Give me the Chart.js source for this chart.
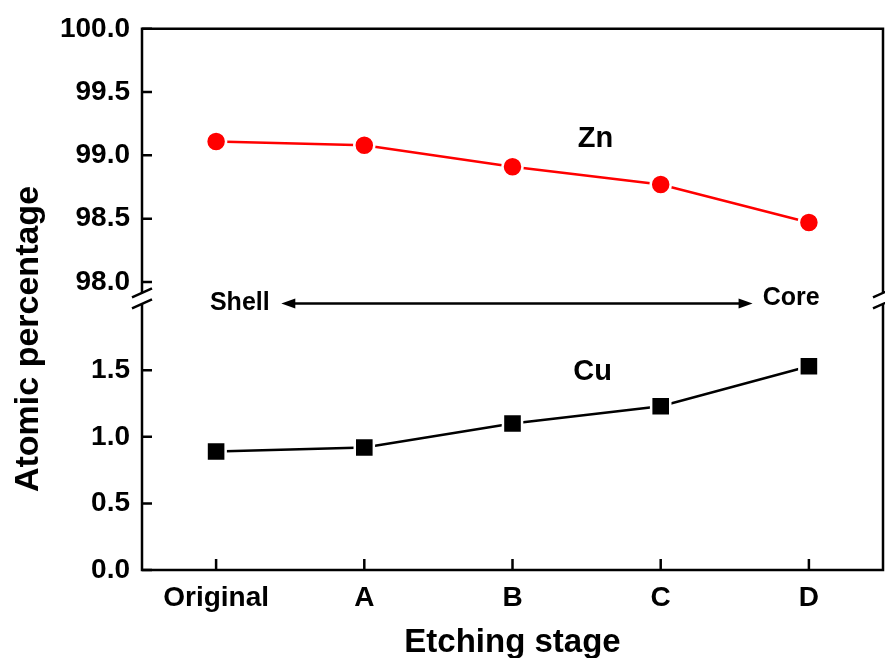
<!DOCTYPE html>
<html lang="en">
<head>
<meta charset="UTF-8">
<title>Atomic percentage by etching stage</title>
<style>
    html, body { margin: 0; padding: 0; background: #fff; }
    canvas { display: block; }
</style>
</head>
<body>
<canvas id="chart" width="885" height="658"></canvas>

<script src="https://cdn.jsdelivr.net/npm/chart.js"></script>
<script>
// data
const stages = ['Original', 'A', 'B', 'C', 'D'];
const znValues = [99.11, 99.08, 98.91, 98.77, 98.47];
const cuValues = [0.89, 0.92, 1.10, 1.23, 1.53];
const upperTicks = [98.0, 98.5, 99.0, 99.5, 100.0];
const lowerTicks = [0.0, 0.5, 1.0, 1.5];

const FONT = '"Liberation Sans", Arial, Helvetica, sans-serif';

// frame, inward ticks, axis break marks and the y title
const framePlugin = {
    id: 'frame',
    afterDraw(chart) {
        const ctx = chart.ctx;
        const a = chart.chartArea;
        const x = chart.scales.x;
        const yTop = chart.scales.yTop;
        const yBot = chart.scales.yBot;
        const breakY = yBot.top;
        const gap = 5.5;

        ctx.save();
        ctx.strokeStyle = '#000';
        ctx.lineWidth = 2.5;
        ctx.lineCap = 'butt';

        // box with gaps on the left and right sides at the break
        ctx.beginPath();
        ctx.moveTo(a.left, breakY - gap);
        ctx.lineTo(a.left, a.top);
        ctx.lineTo(a.right, a.top);
        ctx.lineTo(a.right, breakY - gap);
        ctx.moveTo(a.left, breakY + gap);
        ctx.lineTo(a.left, a.bottom);
        ctx.lineTo(a.right, a.bottom);
        ctx.lineTo(a.right, breakY + gap);
        ctx.stroke();

        // break slashes
        ctx.beginPath();
        [a.left, a.right].forEach(px => {
            [-gap, gap].forEach(off => {
                ctx.moveTo(px - 10, breakY + off + 4.5);
                ctx.lineTo(px + 10, breakY + off - 4.5);
            });
        });
        ctx.stroke();

        // inward tick marks
        ctx.beginPath();
        [yTop, yBot].forEach(s => {
            s.ticks.forEach(t => {
                const py = s.getPixelForValue(t.value);
                ctx.moveTo(a.left, py);
                ctx.lineTo(a.left + 10, py);
            });
        });
        stages.forEach((_, i) => {
            const px = x.getPixelForValue(i);
            ctx.moveTo(px, a.bottom);
            ctx.lineTo(px, a.bottom - 11);
        });
        ctx.stroke();

        // y axis title, rotated
        ctx.fillStyle = '#000';
        ctx.font = 'bold 34px ' + FONT;
        ctx.textAlign = 'center';
        ctx.textBaseline = 'middle';
        ctx.translate(29, 339);
        ctx.rotate(-Math.PI / 2);
        ctx.fillText('Atomic percentage', 0, 0);
        ctx.restore();
    }
};

// series labels and the shell/core arrow
const notesPlugin = {
    id: 'notes',
    afterDraw(chart) {
        const ctx = chart.ctx;
        const x = chart.scales.x;
        const yTop = chart.scales.yTop;
        const yBot = chart.scales.yBot;

        ctx.save();
        ctx.fillStyle = '#000';
        ctx.strokeStyle = '#000';
        ctx.textAlign = 'center';
        ctx.textBaseline = 'middle';

        ctx.font = 'bold 29px ' + FONT;
        ctx.fillText('Zn', x.getPixelForValue(2.56), yTop.getPixelForValue(99.13));
        ctx.fillText('Cu', x.getPixelForValue(2.54), yBot.getPixelForValue(1.485));

        const ay = yBot.top + 5;
        ctx.font = 'bold 25px ' + FONT;
        ctx.fillText('Shell', x.getPixelForValue(0.16), ay);
        ctx.fillText('Core', x.getPixelForValue(3.88), ay - 5);

        const x1 = x.getPixelForValue(0.44);
        const x2 = x.getPixelForValue(3.62);
        ctx.lineWidth = 2.5;
        ctx.beginPath();
        ctx.moveTo(x1 + 8, ay);
        ctx.lineTo(x2 - 8, ay);
        ctx.stroke();
        ctx.beginPath();
        ctx.moveTo(x1, ay);
        ctx.lineTo(x1 + 14, ay - 5);
        ctx.lineTo(x1 + 14, ay + 5);
        ctx.closePath();
        ctx.moveTo(x2, ay);
        ctx.lineTo(x2 - 14, ay - 5);
        ctx.lineTo(x2 - 14, ay + 5);
        ctx.closePath();
        ctx.fill();
        ctx.restore();
    }
};

const ctx = document.getElementById('chart').getContext('2d');
new Chart(ctx, {
    type: 'line',
    data: {
        labels: stages,
        datasets: [
            {
                label: 'Zn',
                data: znValues,
                yAxisID: 'yTop',
                borderColor: '#ff0000',
                borderWidth: 2.5,
                pointStyle: 'circle',
                pointRadius: 10,
                pointBackgroundColor: '#ff0000',
                pointBorderColor: '#ffffff',
                pointBorderWidth: 2.5,
                tension: 0
            },
            {
                label: 'Cu',
                data: cuValues,
                yAxisID: 'yBot',
                borderColor: '#000000',
                borderWidth: 2.5,
                pointStyle: 'rect',
                pointRadius: 13.5,
                pointBackgroundColor: '#000000',
                pointBorderColor: '#ffffff',
                pointBorderWidth: 2.5,
                tension: 0
            }
        ]
    },
    options: {
        responsive: false,
        animation: false,
        layout: { autoPadding: false, padding: { top: 28, right: 2, left: 0, bottom: 0 } },
        plugins: {
            legend: { display: false },
            tooltip: { enabled: false }
        },
        scales: {
            x: {
                type: 'category',
                offset: true,
                grid: { display: false, drawTicks: false },
                border: { display: false },
                ticks: {
                    color: '#000',
                    padding: 11,
                    maxRotation: 0,
                    font: { family: FONT, size: 28, weight: 'bold' }
                },
                title: {
                    display: true,
                    text: 'Etching stage',
                    color: '#000',
                    padding: { top: 10, bottom: -5 },
                    font: { family: FONT, size: 33, weight: 'bold' }
                },
                afterFit(scale) { scale.height = 88; }
            },
            // stacked left axes: the one listed last is laid out on top
            yBot: {
                type: 'linear',
                position: 'left',
                stack: 'y',
                stackWeight: 272,
                min: 0,
                max: 2.04,
                grid: { display: false, drawTicks: false },
                border: { display: false },
                afterBuildTicks(scale) {
                    scale.ticks = lowerTicks.map(v => ({ value: v }));
                },
                ticks: {
                    color: '#000',
                    padding: 12,
                    callback: v => Number(v).toFixed(1),
                    font: { family: FONT, size: 28, weight: 'bold' }
                },
                afterFit(scale) { scale.width = 142; }
            },
            yTop: {
                type: 'linear',
                position: 'left',
                stack: 'y',
                stackWeight: 270,
                min: 97.87,
                max: 100,
                grid: { display: false, drawTicks: false },
                border: { display: false },
                afterBuildTicks(scale) {
                    scale.ticks = upperTicks.map(v => ({ value: v }));
                },
                ticks: {
                    color: '#000',
                    padding: 12,
                    callback: v => Number(v).toFixed(1),
                    font: { family: FONT, size: 28, weight: 'bold' }
                },
                afterFit(scale) { scale.width = 142; }
            }
        }
    },
    plugins: [framePlugin, notesPlugin]
});
</script>
</body>
</html>
